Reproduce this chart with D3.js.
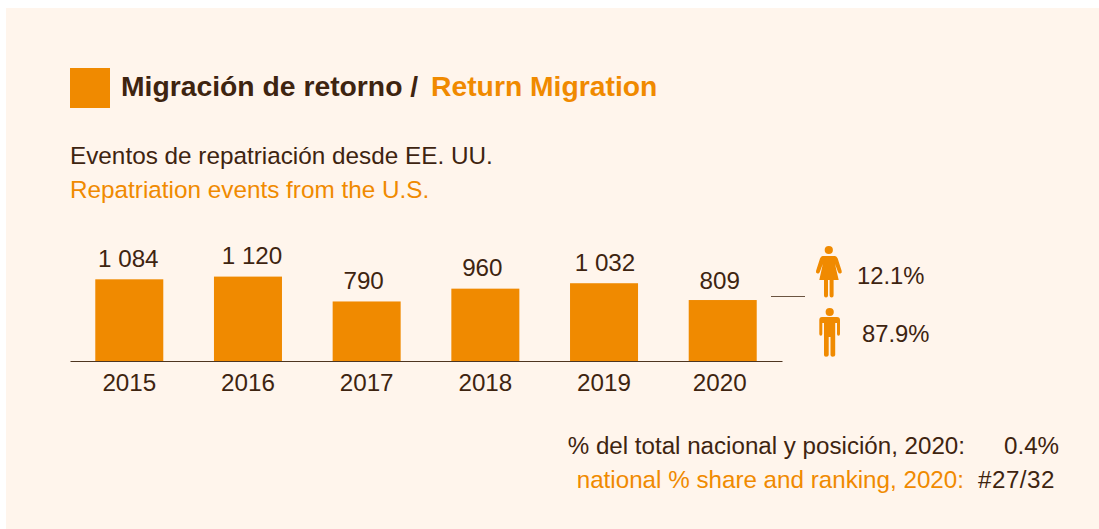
<!DOCTYPE html>
<html><head><meta charset="utf-8">
<script src="https://cdn.jsdelivr.net/npm/d3@7"></script>
<style>html,body{margin:0;padding:0;background:#fff}svg{display:block}text{font-family:"Liberation Sans",Arial,sans-serif}</style>
</head><body><div id="c"></div>
<script>
const years=["2015","2016","2017","2018","2019","2020"];
const events=[1084,1120,790,960,1032,809];
const valueLabels=["1 084","1 120","790","960","1 032","809"];
const genderShares=["12.1%","87.9%"];
const valueNudge=[-1,4,-3,-3,1,-3];
const valueLift=[0,-1,0,-0.5,-0.5,1];
const yearNudge=[0,0,0,0,0,-3];
const ORANGE="#f08a00",DARK="#3e2410",BG="#fff5ec",FS=24.2;
const W=1099,H=529;
const svg=d3.select("#c").append("svg").attr("width",W).attr("height",H);
svg.append("rect").attr("x",6).attr("y",8).attr("width",W-6).attr("height",H-8).attr("fill",BG);
function t(x,y,s,size,fill,o={}){return svg.append("text").attr("x",x).attr("y",y).attr("font-size",size).attr("fill",fill)
 .attr("font-weight",o.w||400).attr("text-anchor",o.a||"start").text(s);}
svg.append("rect").attr("x",70).attr("y",68).attr("width",40).attr("height",40).attr("fill",ORANGE);
t(121,96,"Migración de retorno /",28.3,DARK,{w:700});
t(431,96,"Return Migration",28.3,ORANGE,{w:700});
t(70,164,"Eventos de repatriación desde EE. UU.",24.3,DARK);
t(70,198,"Repatriation events from the U.S.",24.3,ORANGE);

const x=d3.scaleBand().domain(years).range([70,782]).paddingInner(0.427).paddingOuter(0.213);
const y=d3.scaleLinear().domain([0,1120]).range([361,276.6]);
svg.selectAll("rect.bar").data(years).join("rect").attr("class","bar")
 .attr("x",d=>x(d)).attr("width",x.bandwidth())
 .attr("y",(d,i)=>y(events[i])).attr("height",(d,i)=>y(0)-y(events[i])).attr("fill",ORANGE);
svg.selectAll("text.val").data(years).join("text").attr("class","val")
 .attr("x",(d,i)=>x(d)+x.bandwidth()/2+valueNudge[i]).attr("y",(d,i)=>y(events[i])-12+valueLift[i])
 .attr("text-anchor","middle").attr("font-size",FS).attr("fill",DARK).text((d,i)=>valueLabels[i]);
const ax=svg.append("g").attr("transform","translate(0,361)").call(d3.axisBottom(x).tickSize(0).tickPadding(10));
ax.select(".domain").attr("stroke","#4e3520").attr("stroke-width",1.2);
ax.selectAll("text").attr("font-size",FS).attr("fill",DARK).attr("dy","0.82em")
 .attr("dx",(d,i)=>yearNudge[i]).style("font-family",'"Liberation Sans",Arial,sans-serif');

svg.append("line").attr("x1",771).attr("x2",805).attr("y1",296.5).attr("y2",296.5).attr("stroke","#6b5441").attr("stroke-width",1);

// woman icon
const w=svg.append("g").attr("fill",ORANGE);
w.append("circle").attr("cx",828.8).attr("cy",250).attr("r",4.1);
w.append("path").attr("d","M822.5 256 Q821 256 820 258.5 L816 271 Q815.5 273 817.5 273.5 Q819 274 819.8 272 L822.8 264 L819.3 280 L824 280 L824 295.5 Q824 297.5 826 297.5 Q828 297.5 828 295.5 L828 280 L829.6 280 L829.6 295.5 Q829.6 297.5 831.6 297.5 Q833.6 297.5 833.6 295.5 L833.6 280 L838.7 280 L835 264 L838 272 Q838.8 274 840.5 273.5 Q842.2 273 841.7 271 L837.7 258.5 Q836.7 256 835 256 Z");
// man icon
const m=svg.append("g").attr("fill",ORANGE);
m.append("circle").attr("cx",829.7).attr("cy",312).attr("r",4.1);
m.append("path").attr("d","M822 317 Q819.3 317 819.3 320 L819.3 334 Q819.3 335.8 820.8 335.8 Q822.3 335.8 822.3 334 L822.3 323 L824 323 L824 355 Q824 356.8 826 356.8 Q828.7 356.8 828.7 355 L828.7 337 L830.5 337 L830.5 355 Q830.5 356.8 832.7 356.8 Q835.2 356.8 835.2 355 L835.2 323 L837 323 L837 334 Q837 335.8 838.5 335.8 Q840 335.8 840 334 L840 320 Q840 317 837 317 Z");
t(857,284,genderShares[0],23.8,DARK);
t(862,342,genderShares[1],23.8,DARK);

t(965,454,"% del total nacional y posición, 2020:",24.15,DARK,{a:"end"});
t(964,488,"national % share and ranking, 2020:",24.2,ORANGE,{a:"end"});
t(1004,454,"0.4%",FS,DARK);
t(978,488,"#27/32",FS,DARK).attr("letter-spacing",0.5);
</script></body></html>
